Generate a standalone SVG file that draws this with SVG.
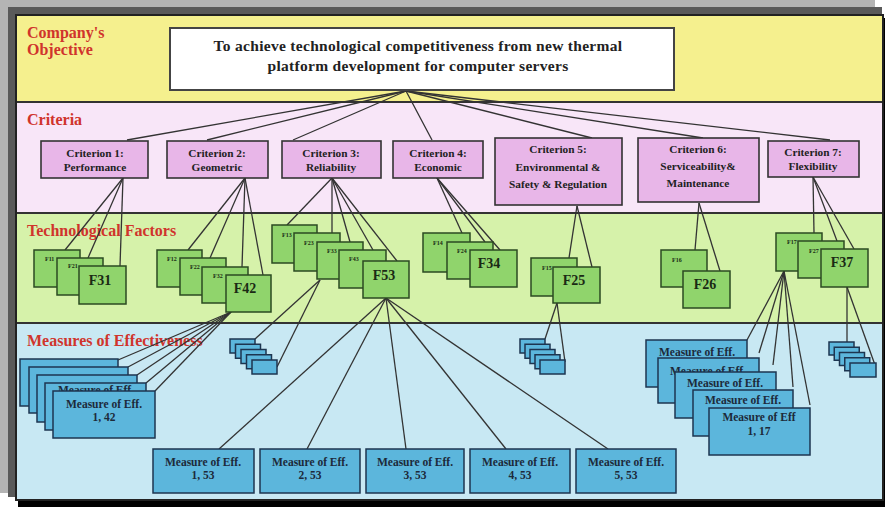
<svg xmlns="http://www.w3.org/2000/svg" width="885" height="507" viewBox="0 0 885 507">
<style>
.sec{font-family:"Liberation Serif",serif;font-weight:bold;font-size:16px;fill:#d0342c}
.obj{font-family:"Liberation Serif",serif;font-weight:bold;font-size:15.5px;letter-spacing:0.3px;fill:#222;text-anchor:middle}
.ct{font-family:"Liberation Serif",serif;font-weight:bold;font-size:11.3px;fill:#222;text-anchor:middle}
.crit{fill:#e8b6e8;stroke:#333;stroke-width:1.6}
.fac{fill:#90d46c;stroke:#2b4a22;stroke-width:1.5}
.ft{font-family:"Liberation Serif",serif;font-weight:bold;font-size:14px;fill:#1a2a14;text-anchor:middle}
.fs{font-family:"Liberation Serif",serif;font-weight:bold;font-size:6px;fill:#1a2a14}
.moe{fill:#5cb6dc;stroke:#1d3550;stroke-width:1.5}
.mt{font-family:"Liberation Serif",serif;font-weight:bold;font-size:11.5px;fill:#1d2a3a;text-anchor:middle}
.band{stroke:#333;stroke-width:2}
#connectors line{stroke:#333;stroke-width:1.3}
</style>
<rect x="0" y="0" width="875" height="493" fill="#b4b4b4"/>
<rect x="8" y="7" width="874" height="490" fill="#5a5a5a"/>
<rect x="18" y="18" width="867" height="489" fill="#000"/>
<g id="bands">
<rect x="16" y="15" width="867" height="87" fill="#f5f08e"/>
<rect x="16" y="102" width="867" height="111" fill="#f8e6f8"/>
<rect x="16" y="213" width="867" height="110" fill="#d6f2aa"/>
<rect x="16" y="323" width="867" height="177" fill="#c8e8f3"/>
<line class="band" x1="16" y1="102" x2="883" y2="102"/>
<line class="band" x1="16" y1="213" x2="883" y2="213"/>
<line class="band" x1="16" y1="323" x2="883" y2="323"/>
<rect x="16" y="15" width="867" height="485" fill="none" stroke="#222" stroke-width="2"/>
</g>
<g id="section-labels">
<text class="sec" x="27" y="38">Company's</text>
<text class="sec" x="27" y="55">Objective</text>
<text class="sec" x="27" y="125">Criteria</text>
<text class="sec" x="27" y="236">Technological Factors</text>
<text class="sec" x="27" y="346">Measures of Effectiveness</text>
</g>
<g id="connectors">
<line x1="406" y1="91" x2="127" y2="140"/>
<line x1="406" y1="91" x2="207" y2="140"/>
<line x1="406" y1="91" x2="293" y2="140"/>
<line x1="406" y1="91" x2="432" y2="140"/>
<line x1="406" y1="91" x2="592" y2="138"/>
<line x1="406" y1="91" x2="703" y2="138"/>
<line x1="406" y1="91" x2="830" y2="140"/>
<line x1="123" y1="178" x2="65" y2="250"/>
<line x1="123" y1="178" x2="88" y2="258"/>
<line x1="123" y1="178" x2="120" y2="266"/>
<line x1="245" y1="178" x2="188" y2="250"/>
<line x1="245" y1="178" x2="210" y2="258"/>
<line x1="245" y1="178" x2="242" y2="267"/>
<line x1="245" y1="178" x2="263" y2="275"/>
<line x1="332" y1="178" x2="287" y2="225"/>
<line x1="332" y1="178" x2="332" y2="233"/>
<line x1="332" y1="178" x2="350" y2="242"/>
<line x1="332" y1="178" x2="373" y2="250"/>
<line x1="332" y1="178" x2="397" y2="261"/>
<line x1="437" y1="178" x2="462" y2="233"/>
<line x1="437" y1="178" x2="485" y2="242"/>
<line x1="437" y1="178" x2="500" y2="250"/>
<line x1="577" y1="206" x2="569" y2="258"/>
<line x1="577" y1="206" x2="592" y2="267"/>
<line x1="699" y1="203" x2="695" y2="250"/>
<line x1="699" y1="203" x2="720" y2="271"/>
<line x1="813" y1="177" x2="814" y2="233"/>
<line x1="813" y1="177" x2="837" y2="241"/>
<line x1="813" y1="177" x2="854" y2="249"/>
<line x1="320" y1="280" x2="255" y2="339"/>
<line x1="320" y1="280" x2="277" y2="367"/>
<line x1="231" y1="312" x2="118" y2="360"/>
<line x1="231" y1="312" x2="128" y2="367"/>
<line x1="231" y1="312" x2="137" y2="375"/>
<line x1="231" y1="312" x2="146" y2="383"/>
<line x1="231" y1="312" x2="155" y2="391"/>
<line x1="386" y1="298" x2="219" y2="449"/>
<line x1="386" y1="298" x2="307" y2="449"/>
<line x1="386" y1="298" x2="406" y2="449"/>
<line x1="386" y1="298" x2="506" y2="449"/>
<line x1="386" y1="298" x2="608" y2="449"/>
<line x1="557" y1="303" x2="545" y2="339"/>
<line x1="557" y1="303" x2="565" y2="362"/>
<line x1="784" y1="271" x2="747" y2="340"/>
<line x1="784" y1="271" x2="759" y2="353"/>
<line x1="784" y1="271" x2="773" y2="365"/>
<line x1="784" y1="271" x2="793" y2="387"/>
<line x1="784" y1="271" x2="810" y2="405"/>
<line x1="847" y1="287" x2="847" y2="342"/>
<line x1="847" y1="287" x2="875" y2="365"/>
</g>
<g id="objective">
<rect x="170" y="28" width="504" height="62" fill="#fff" stroke="#444" stroke-width="2"/>
<text class="obj" x="418" y="51">To achieve technological competitiveness from new thermal</text>
<text class="obj" x="418" y="71">platform development for computer servers</text>
</g>
<g id="criterion1"><rect class="crit" x="41" y="141" width="107" height="37"/><text class="ct" x="95" y="157">Criterion 1:</text><text class="ct" x="95" y="171">Performance</text></g>
<g id="criterion2"><rect class="crit" x="167" y="141" width="101" height="37"/><text class="ct" x="217" y="157">Criterion 2:</text><text class="ct" x="217" y="171">Geometric</text></g>
<g id="criterion3"><rect class="crit" x="282" y="141" width="99" height="37"/><text class="ct" x="331" y="157">Criterion 3:</text><text class="ct" x="331" y="171">Reliability</text></g>
<g id="criterion4"><rect class="crit" x="393" y="141" width="90" height="37"/><text class="ct" x="438" y="157">Criterion 4:</text><text class="ct" x="438" y="171">Economic</text></g>
<g id="criterion5"><rect class="crit" x="495" y="138" width="127" height="67"/><text class="ct" x="558" y="153">Criterion 5:</text><text class="ct" x="558" y="171">Environmental &amp;</text><text class="ct" x="558" y="188">Safety &amp; Regulation</text></g>
<g id="criterion6"><rect class="crit" x="638" y="138" width="121" height="64"/><text class="ct" x="698" y="153">Criterion 6:</text><text class="ct" x="698" y="170">Serviceability&amp;</text><text class="ct" x="698" y="187">Maintenance</text></g>
<g id="criterion7"><rect class="crit" x="768" y="141" width="91" height="36"/><text class="ct" x="813" y="156">Criterion 7:</text><text class="ct" x="813" y="170">Flexibility</text></g>
<g id="factors1">
<rect class="fac" x="34" y="250" width="46" height="37"/><text class="fs" x="45" y="261">F11</text>
<rect class="fac" x="57" y="258" width="46" height="37"/><text class="fs" x="68" y="268">F21</text>
<rect class="fac" x="79" y="266" width="47" height="38"/><text class="ft" x="100" y="285">F31</text>
</g>
<g id="factors2">
<rect class="fac" x="157" y="250" width="45" height="37"/><text class="fs" x="167" y="261">F12</text>
<rect class="fac" x="180" y="258" width="46" height="37"/><text class="fs" x="190" y="269">F22</text>
<rect class="fac" x="202" y="267" width="46" height="36"/><text class="fs" x="213" y="278">F32</text>
<rect class="fac" x="226" y="275" width="45" height="37"/><text class="ft" x="245" y="293">F42</text>
</g>
<g id="factors3">
<rect class="fac" x="272" y="225" width="45" height="38"/><text class="fs" x="282" y="237">F13</text>
<rect class="fac" x="294" y="233" width="46" height="38"/><text class="fs" x="304" y="245">F23</text>
<rect class="fac" x="317" y="242" width="46" height="37"/><text class="fs" x="327" y="253">F33</text>
<rect class="fac" x="339" y="250" width="47" height="38"/><text class="fs" x="349" y="261">F43</text>
<rect class="fac" x="363" y="261" width="46" height="37"/><text class="ft" x="384" y="280">F53</text>
</g>
<g id="factors4">
<rect class="fac" x="423" y="233" width="47" height="39"/><text class="fs" x="433" y="245">F14</text>
<rect class="fac" x="447" y="242" width="46" height="37"/><text class="fs" x="457" y="253">F24</text>
<rect class="fac" x="470" y="250" width="47" height="37"/><text class="ft" x="489" y="268">F34</text>
</g>
<g id="factors5">
<rect class="fac" x="531" y="258" width="46" height="38"/><text class="fs" x="542" y="270">F15</text>
<rect class="fac" x="553" y="267" width="47" height="36"/><text class="ft" x="574" y="285">F25</text>
</g>
<g id="factors6">
<rect class="fac" x="661" y="250" width="46" height="37"/><text class="fs" x="672" y="262">F16</text>
<rect class="fac" x="683" y="271" width="47" height="37"/><text class="ft" x="705" y="289">F26</text>
</g>
<g id="factors7">
<rect class="fac" x="776" y="233" width="46" height="38"/><text class="fs" x="787" y="244">F17</text>
<rect class="fac" x="798" y="241" width="46" height="37"/><text class="fs" x="809" y="253">F27</text>
<rect class="fac" x="821" y="249" width="47" height="38"/><text class="ft" x="842" y="267">F37</text>
</g>
<g id="moe-42">
<rect class="moe" x="20" y="359" width="98" height="47"/>
<rect class="moe" x="29" y="367" width="99" height="46"/>
<rect class="moe" x="37" y="375" width="100" height="47"/>
<rect class="moe" x="45" y="383" width="101" height="47"/><text class="mt" x="96" y="394">Measure of Eff.</text>
<rect class="moe" x="53" y="391" width="102" height="47"/><text class="mt" x="104" y="408">Measure of Eff.</text><text class="mt" x="104" y="421">1, 42</text>
</g>
<g id="moe-33">
<rect class="moe" x="230" y="339" width="25" height="14"/>
<rect class="moe" x="235.5" y="344.25" width="25" height="14"/>
<rect class="moe" x="241" y="349.5" width="25" height="14"/>
<rect class="moe" x="246.5" y="354.75" width="25" height="14"/>
<rect class="moe" x="252" y="360" width="25" height="14"/>
</g>
<g id="moe-25">
<rect class="moe" x="520" y="339" width="25" height="14"/>
<rect class="moe" x="525" y="344.25" width="25" height="14"/>
<rect class="moe" x="530" y="349.5" width="25" height="14"/>
<rect class="moe" x="535" y="354.75" width="25" height="14"/>
<rect class="moe" x="540" y="360" width="25" height="14"/>
</g>
<g id="moe-37">
<rect class="moe" x="829" y="342" width="25" height="13"/>
<rect class="moe" x="834.25" y="347.25" width="25" height="13"/>
<rect class="moe" x="839.5" y="352.5" width="25" height="13"/>
<rect class="moe" x="844.75" y="357.75" width="25" height="13"/>
<rect class="moe" x="850" y="363" width="26" height="14"/>
</g>
<g id="moe-17">
<rect class="moe" x="646" y="340" width="101" height="47"/><text class="mt" x="697" y="356">Measure of Eff.</text>
<rect class="moe" x="658" y="358" width="101" height="45"/><text class="mt" x="708" y="375">Measure of Eff.</text>
<rect class="moe" x="675" y="372" width="101" height="46"/><text class="mt" x="725" y="387">Measure of Eff.</text>
<rect class="moe" x="693" y="390" width="100" height="46"/><text class="mt" x="743" y="404">Measure of Eff.</text>
<rect class="moe" x="709" y="408" width="101" height="47"/><text class="mt" x="759" y="421">Measure of Eff</text><text class="mt" x="759" y="435">1, 17</text>
</g>
<g id="moe-53-1"><rect class="moe" x="153" y="449" width="101" height="44"/><text class="mt" x="203" y="466">Measure of Eff.</text><text class="mt" x="203" y="479">1, 53</text></g>
<g id="moe-53-2"><rect class="moe" x="260" y="449" width="100" height="44"/><text class="mt" x="310" y="466">Measure of Eff.</text><text class="mt" x="310" y="479">2, 53</text></g>
<g id="moe-53-3"><rect class="moe" x="366" y="449" width="98" height="44"/><text class="mt" x="415" y="466">Measure of Eff.</text><text class="mt" x="415" y="479">3, 53</text></g>
<g id="moe-53-4"><rect class="moe" x="470" y="449" width="100" height="44"/><text class="mt" x="520" y="466">Measure of Eff.</text><text class="mt" x="520" y="479">4, 53</text></g>
<g id="moe-53-5"><rect class="moe" x="576" y="449" width="100" height="44"/><text class="mt" x="626" y="466">Measure of Eff.</text><text class="mt" x="626" y="479">5, 53</text></g>
</svg>
